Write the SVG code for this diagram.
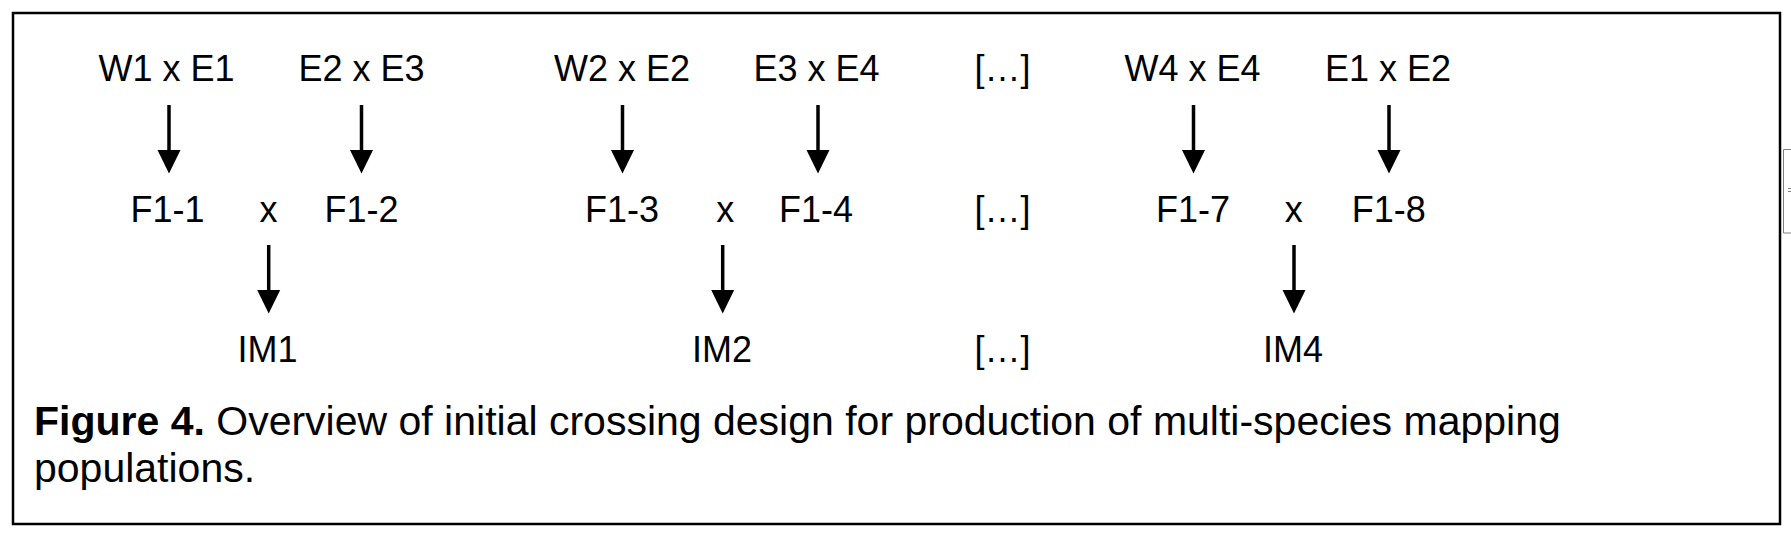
<svg xmlns="http://www.w3.org/2000/svg" width="1791" height="540" viewBox="0 0 1791 540">
<style>
.t{font-family:"Liberation Sans",Arial,sans-serif;font-size:36px;fill:#000;text-anchor:middle}
.c{font-family:"Liberation Sans",Arial,sans-serif;font-size:41px;fill:#000}
.sh{stroke:#000;stroke-width:3.5;fill:none}
.hd{fill:#000}
</style>
<defs>
<g id="arrow">
<line class="sh" x1="0" y1="0" x2="0" y2="47"/>
<polygon class="hd" points="-11.5,45 11.5,45 0,68.5"/>
</g>
</defs>
<rect width="1791" height="540" fill="#fff"/>
<rect id="frame" x="13" y="13" width="1767" height="511" fill="none" stroke="#000" stroke-width="2.5"/>
<g id="side-artifact" stroke="#808080" stroke-width="1" fill="none">
<path d="M1792,149.5 H1783.5 V233 H1792"/>
<line x1="1788" y1="188.5" x2="1791" y2="188.5"/>
<line x1="1788" y1="191.5" x2="1791" y2="191.5"/>
</g>
<g id="connectors">
<use href="#arrow" x="169" y="105"/>
<use href="#arrow" x="361.5" y="105"/>
<use href="#arrow" x="622.5" y="105"/>
<use href="#arrow" x="818" y="105"/>
<use href="#arrow" x="1193.5" y="105"/>
<use href="#arrow" x="1389" y="105"/>
<use href="#arrow" x="268.7" y="245"/>
<use href="#arrow" x="722.7" y="245"/>
<use href="#arrow" x="1294" y="245"/>
</g>
<g id="n-w1e1"><text class="t" x="166.5" y="81">W1 x E1</text></g>
<g id="n-e2e3"><text class="t" x="361.5" y="81">E2 x E3</text></g>
<g id="n-w2e2"><text class="t" x="622" y="81">W2 x E2</text></g>
<g id="n-e3e4"><text class="t" x="816.5" y="81">E3 x E4</text></g>
<g id="n-dots1"><text class="t" x="1002.5" y="81">[…]</text></g>
<g id="n-w4e4"><text class="t" x="1192.5" y="81">W4 x E4</text></g>
<g id="n-e1e2"><text class="t" x="1388" y="81">E1 x E2</text></g>
<g id="n-f11"><text class="t" x="167.5" y="222">F1-1</text></g>
<g id="n-x1"><text class="t" x="268.5" y="222">x</text></g>
<g id="n-f12"><text class="t" x="361.5" y="222">F1-2</text></g>
<g id="n-f13"><text class="t" x="622" y="222">F1-3</text></g>
<g id="n-x2"><text class="t" x="725.3" y="222">x</text></g>
<g id="n-f14"><text class="t" x="816" y="222">F1-4</text></g>
<g id="n-dots2"><text class="t" x="1002.5" y="222">[…]</text></g>
<g id="n-f17"><text class="t" x="1193" y="222">F1-7</text></g>
<g id="n-x4"><text class="t" x="1293.7" y="222">x</text></g>
<g id="n-f18"><text class="t" x="1388.7" y="222">F1-8</text></g>
<g id="n-im1"><text class="t" x="267.5" y="362">IM1</text></g>
<g id="n-im2"><text class="t" x="722" y="362">IM2</text></g>
<g id="n-dots3"><text class="t" x="1002.5" y="362">[…]</text></g>
<g id="n-im4"><text class="t" x="1293" y="362">IM4</text></g>
<g id="caption">
<text class="c" x="34" y="435"><tspan font-weight="bold">Figure 4.</tspan> Overview of initial crossing design for production of multi-species mapping</text>
<text class="c" x="34" y="482">populations.</text>
</g>
</svg>
